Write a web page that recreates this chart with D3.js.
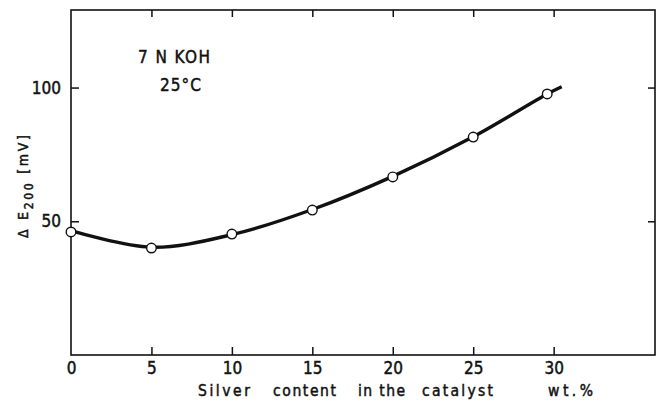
<!DOCTYPE html>
<html><head><meta charset="utf-8">
<script src="https://cdn.jsdelivr.net/npm/d3@7"></script>
<style>body{margin:0;background:#fff}svg{display:block}text{font-family:"DejaVu Sans Condensed","DejaVu Sans",sans-serif;fill:#111;stroke:#111;stroke-width:0.45px}</style>
</head><body><svg id="c" width="660" height="403"></svg>
<script>
const silver = [0, 5, 10, 15, 20, 25, 29.6];
const deltaE = [46, 40, 45.2, 54.2, 66.6, 81.5, 97.6];
const curveX = [0, 5, 10, 15, 20, 25, 29.6, 30.5];
const curveY = [46.5, 40.3, 45, 54.4, 66.8, 81.6, 97.6, 100.3];
const xTicks = [0, 5, 10, 15, 20, 25, 30];
const yTicks = [50, 100];
const xLabelWords = ["Silver", "content", "in the", "catalyst", "wt.%"];

(function(){
const svg = d3.select("#c");
const L = 71, R = 655, T = 10, B = 355;
const x = d3.scaleLinear().domain([0, 36.3]).range([L, R]);
const y = d3.scaleLinear().domain([0, 129]).range([B, T]);
const ink = "#111";

svg.append("rect").attr("x", L).attr("y", T).attr("width", R - L).attr("height", B - T)
  .attr("fill", "none").attr("stroke", ink).attr("stroke-width", 1.6);

const gB = svg.append("g").attr("transform", `translate(0,${B})`)
  .call(d3.axisBottom(x).tickValues(xTicks).tickSize(-8).tickPadding(7).tickFormat(d3.format("d")));
const gT = svg.append("g").attr("transform", `translate(0,${T})`)
  .call(d3.axisTop(x).tickValues(xTicks.filter(d => d > 0)).tickSize(-7).tickFormat(""));
const gL = svg.append("g").attr("transform", `translate(${L},0)`)
  .call(d3.axisLeft(y).tickValues(yTicks).tickSize(-8).tickPadding(10).tickFormat(d3.format("d")));
const gR = svg.append("g").attr("transform", `translate(${R},0)`)
  .call(d3.axisRight(y).tickValues(yTicks).tickSize(-7).tickFormat(""));
[gB, gT, gL, gR].forEach(g => {
  g.select(".domain").remove();
  g.selectAll(".tick line").attr("stroke", ink).attr("stroke-width", 1.5);
  g.selectAll(".tick text").attr("font-size", 17).attr("fill", ink);
});
gB.selectAll(".tick line").filter(d => d === 0).remove();

const pts = curveX.map((d, i) => [d, curveY[i]]);
svg.append("path").datum(pts)
  .attr("d", d3.line().x(d => x(d[0])).y(d => y(d[1])).curve(d3.curveCatmullRom.alpha(0.5)))
  .attr("fill", "none").attr("stroke", ink).attr("stroke-width", 3.4).attr("stroke-linecap", "butt");

svg.selectAll("circle.pt").data(silver.map((d, i) => [d, deltaE[i]])).enter().append("circle")
  .attr("class", "pt").attr("cx", d => x(d[0])).attr("cy", d => y(d[1])).attr("r", 4.8)
  .attr("fill", "#fff").attr("stroke", ink).attr("stroke-width", 1.4);

svg.append("text").attr("x", 138).attr("y", 63).attr("font-size", 17)
  .attr("textLength", 72).attr("lengthAdjust", "spacing").text("7 N KOH");
svg.append("text").attr("x", 160).attr("y", 91).attr("font-size", 17)
  .attr("textLength", 41).attr("lengthAdjust", "spacing").text("25°C");

const yl = svg.append("text").attr("transform", "translate(28,238) rotate(-90)")
  .attr("font-size", 14).attr("textLength", 103).attr("lengthAdjust", "spacing");
yl.append("tspan").text("Δ E");
yl.append("tspan").attr("font-size", 12).attr("dy", 5).text("200");
yl.append("tspan").attr("dy", -5).text(" [mV]");

// x axis title, word by word (starts and widths of the words as set in the figure)
const wordX = [198, 273, 358, 422, 548];
const wordW = [52, 63, 47, 71, 45];
svg.selectAll("text.xl").data(xLabelWords).enter().append("text").attr("class", "xl")
  .attr("x", (d, i) => wordX[i]).attr("y", 396).attr("font-size", 15.5)
  .attr("textLength", (d, i) => wordW[i]).attr("lengthAdjust", "spacing").text(d => d);
})();
</script></body></html>
